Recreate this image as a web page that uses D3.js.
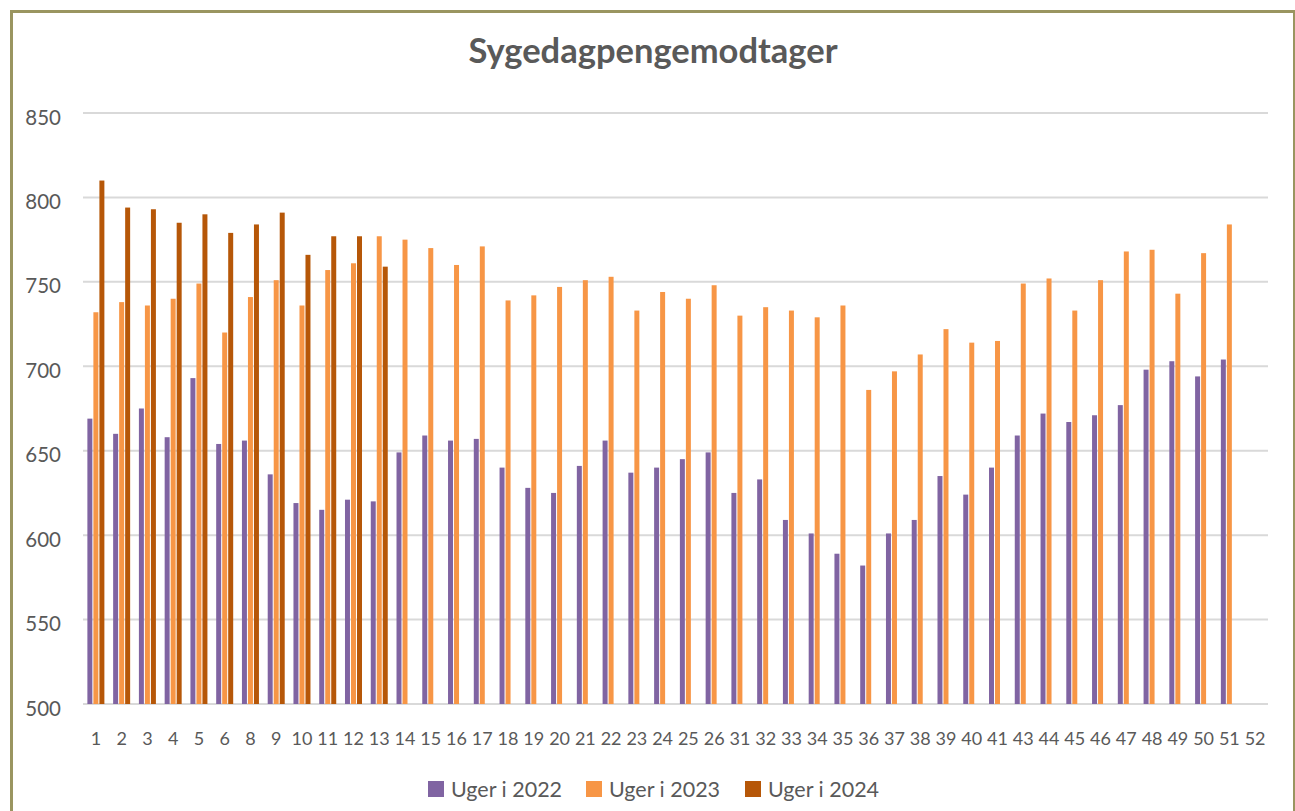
<!DOCTYPE html>
<html>
<head>
<meta charset="utf-8">
<title>Sygedagpengemodtager</title>
<script src="https://cdn.jsdelivr.net/npm/d3@7"></script>
<style>
  body { margin: 0; background: #fff; }
  text { font-family: 'Lato', 'Open Sans', sans-serif; fill: #595959; }
</style>
</head>
<body>
<div id="chart"></div>
<script>
// week labels on the x axis (no week 7, 27-30, 42)
var weeks = ["1","2","3","4","5","6","8","9","10","11","12","13","14","15","16","17","18","19","20",
  "21","22","23","24","25","26","31","32","33","34","35","36","37","38","39","40","41",
  "43","44","45","46","47","48","49","50","51","52"];

var series = ["Uger i 2022", "Uger i 2023", "Uger i 2024"];
var colors = ["#8064A2", "#F79646", "#B65708"];

// values, null = no bar
var v2022 = [669,660,675,658,693,654,656,636,619,615,621,620,649,659,656,657,640,628,625,
  641,656,637,640,645,649,625,633,609,601,589,582,601,609,635,624,640,
  659,672,667,671,677,698,703,694,704,null];
var v2023 = [732,738,736,740,749,720,741,751,736,757,761,777,775,770,760,771,739,742,747,
  751,753,733,744,740,748,730,735,733,729,736,686,697,707,722,714,715,
  749,752,733,751,768,769,743,767,784,null];
var v2024 = [810,794,793,785,790,779,784,791,766,777,777,759];

var yTicks = [500, 550, 600, 650, 700, 750, 800, 850];

var W = 1295, H = 811;
var svg = d3.select("#chart").append("svg")
  .attr("width", W).attr("height", H);

// frame
svg.append("rect")
  .attr("x", 11.5).attr("y", 11.5)
  .attr("width", 1283).attr("height", 900)
  .attr("fill", "#fff")
  .attr("stroke", "#9A9560")
  .attr("stroke-width", 3);

var x = d3.scaleBand().domain(weeks).range([83, 1268]).padding(0);
var bw = x.bandwidth();
var x1 = d3.scaleBand().domain(series).range([0, bw * 0.66]).paddingInner(0.17);
var off = (bw - bw * 0.66) / 2;

var y = d3.scaleLinear().domain([500, 850]).range([704, 113]);

// gridlines
svg.append("g").selectAll("line")
  .data(yTicks).enter().append("line")
  .attr("x1", 83).attr("x2", 1268)
  .attr("y1", function(d) { return y(d); })
  .attr("y2", function(d) { return y(d); })
  .attr("stroke", "#D9D9D9")
  .attr("stroke-width", 2);

// y labels
svg.append("g").selectAll("text")
  .data(yTicks).enter().append("text")
  .attr("x", 61)
  .attr("y", function(d) { return y(d) + 11.5; })
  .attr("text-anchor", "end")
  .style("font-size", "20.5px")
  .text(function(d) { return d; });

// x labels
svg.append("g").selectAll("text")
  .data(weeks).enter().append("text")
  .attr("x", function(d) { return x(d) + bw / 2; })
  .attr("y", 745)
  .attr("text-anchor", "middle")
  .style("font-size", "18px")
  .text(function(d) { return d; });

// bars
var all = [v2022, v2023, v2024];
all.forEach(function(vals, si) {
  var rows = vals.map(function(v, i) { return {week: weeks[i], v: v}; })
    .filter(function(d) { return d.v != null; });
  svg.append("g").selectAll("rect")
    .data(rows).enter().append("rect")
    .attr("x", function(d) { return x(d.week) + off + x1(series[si]); })
    .attr("width", x1.bandwidth())
    .attr("y", function(d) { return y(d.v); })
    .attr("height", function(d) { return y(500) - y(d.v); })
    .attr("fill", colors[si]);
});

// title
svg.append("text")
  .attr("x", 653).attr("y", 63)
  .attr("text-anchor", "middle")
  .style("font-size", "34.5px")
  .style("font-weight", "bold")
  .text("Sygedagpengemodtager");

// legend
var legX = [428, 586, 745];
var leg = svg.append("g").selectAll("g")
  .data(series).enter().append("g")
  .attr("transform", function(d, i) { return "translate(" + legX[i] + ",781)"; });
leg.append("rect")
  .attr("width", 16).attr("height", 16)
  .attr("fill", function(d, i) { return colors[i]; });
leg.append("text")
  .attr("x", 23).attr("y", 16)
  .style("font-size", "21.5px")
  .text(function(d) { return d; });
</script>
</body>
</html>
